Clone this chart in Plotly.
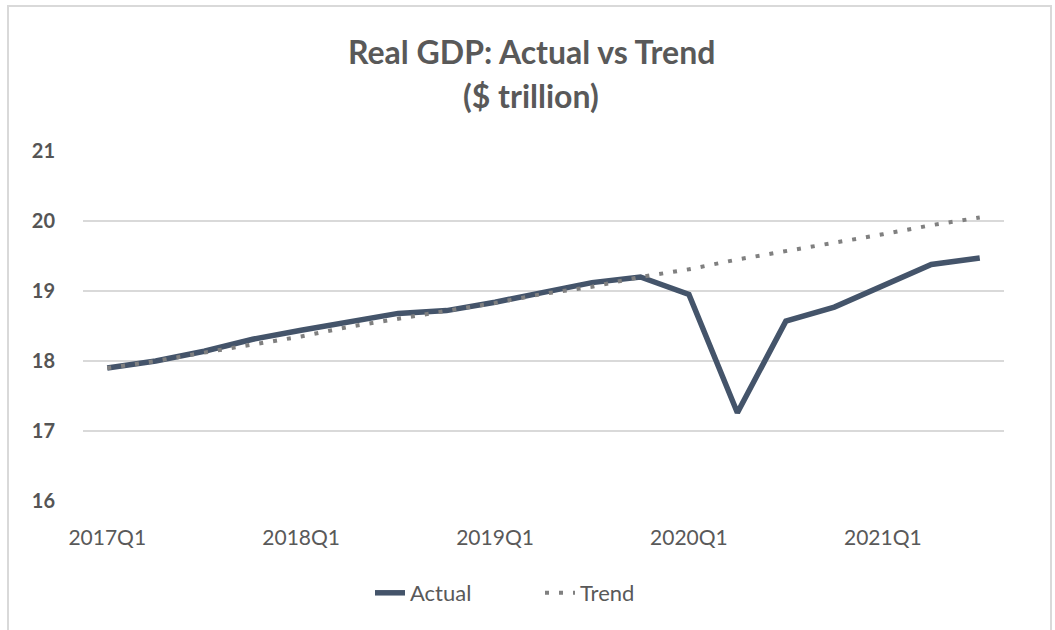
import plotly.graph_objects as go

quarters = ["2017Q1", "2017Q2", "2017Q3", "2017Q4",
            "2018Q1", "2018Q2", "2018Q3", "2018Q4",
            "2019Q1", "2019Q2", "2019Q3", "2019Q4",
            "2020Q1", "2020Q2", "2020Q3", "2020Q4",
            "2021Q1", "2021Q2", "2021Q3"]
actual = [17.90, 18.00, 18.14, 18.31, 18.44, 18.57, 18.68, 18.72,
          18.84, 18.98, 19.12, 19.20, 18.95, 17.26, 18.57, 18.77,
          19.07, 19.38, 19.47]
trend = [17.90, 18.00, 18.12, 18.23, 18.35, 18.49, 18.60, 18.71,
         18.83, 18.96, 19.06, 19.20, 19.31, 19.45, 19.57, 19.68,
         19.81, 19.94, 20.05]
x_ticks = ["2017Q1", "2018Q1", "2019Q1", "2020Q1", "2021Q1"]
y_ticks = [16, 17, 18, 19, 20, 21]
title_lines = ["Real GDP: Actual vs Trend", "($ trillion)"]

TEXT = "#595959"
FONT = "Lato, 'Open Sans', sans-serif"

fig = go.Figure()
fig.add_trace(go.Scatter(
    x=quarters, y=actual, name="Actual", mode="lines",
    line=dict(color="#44546A", width=5.5),
))
fig.add_trace(go.Scatter(
    x=quarters, y=trend, name="Trend", mode="lines",
    line=dict(color="#808080", width=4, dash="4px,10px"),
))

PLOT_TOP, PLOT_BOTTOM = 151, 501
PH = PLOT_BOTTOM - PLOT_TOP

fig.update_layout(
    width=1055, height=630,
    margin=dict(l=83, r=51, t=PLOT_TOP, b=630 - PLOT_BOTTOM),
    paper_bgcolor="white", plot_bgcolor="white",
    font=dict(family=FONT, color=TEXT, size=18),
    xaxis=dict(
        type="category", range=[-0.5, 18.5],
        tickmode="array", tickvals=x_ticks, ticktext=x_ticks,
        showgrid=False, showline=False, zeroline=False, ticks="",
        ticklabelstandoff=22,
        tickfont=dict(size=21, color=TEXT),
    ),
    yaxis=dict(
        range=[16, 21], tickmode="array", tickvals=y_ticks,
        ticktext=[f"<b>{v}</b>" for v in y_ticks],
        showgrid=True, gridcolor="#D9D9D9", gridwidth=1.5,
        zeroline=False, showline=False, ticks="",
        ticklabelstandoff=27,
        tickfont=dict(size=20, color="#555555"),
    ),
    legend=dict(
        orientation="h", x=(540 - 83) / 921, xanchor="center",
        y=-(593 - PLOT_BOTTOM) / PH, yanchor="middle",
        font=dict(size=22, color=TEXT),
        entrywidth=125,
    ),
    showlegend=True,
)

for line, ypx in zip(title_lines, [52, 96]):
    fig.add_annotation(
        text=f"<b>{line}</b>", xref="paper", yref="paper",
        x=(531 - 83) / 921, y=(PLOT_BOTTOM - ypx) / PH,
        xanchor="center", yanchor="middle", showarrow=False,
        font=dict(family=FONT, size=32, color=TEXT),
    )

fig.add_shape(
    type="rect", xref="paper", yref="paper",
    x0=(8 - 83) / 921, x1=(1051 - 83) / 921,
    y0=-(630 - PLOT_BOTTOM + 10) / PH, y1=(PLOT_BOTTOM - 6) / PH,
    line=dict(color="#D9D9D9", width=2), layer="below",
)

fig.write_html(
    "out.html",
    config={"displayModeBar": False},
    post_script="document.body.style.margin='0';document.body.style.overflow='hidden';",
)
